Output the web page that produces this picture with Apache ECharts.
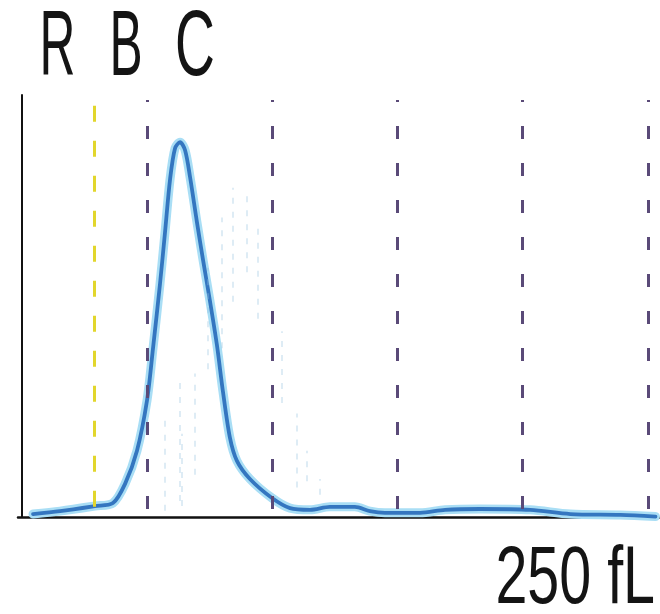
<!DOCTYPE html>
<html>
<head>
<meta charset="utf-8">
<style>
  html, body { margin: 0; padding: 0; background: #ffffff; }
  #chart { width: 660px; height: 614px; }
</style>
<script src="https://cdn.jsdelivr.net/npm/echarts@6/dist/echarts.min.js"></script>
</head>
<body>
<div id="chart"></div>
<script>
// Volume histogram curve (x in fL, y relative frequency 0..100)
const curveX = [4.5, 15.3, 29.2, 36.4, 41.2, 46.0, 50.0, 52.4, 55.2, 57.2, 59.2, 61.2, 63.2, 65.2, 67.2, 69.9, 72.4, 75.1, 77.9, 80.3, 83.1, 85.9, 91.1, 99.9, 107.1, 115.1, 123, 133, 139, 145, 159, 169, 183, 203, 219, 239, 253];
const curveY = [0.7, 1.4, 2.6, 3.3, 7.8, 15.7, 27.6, 40.0, 55.3, 67.5, 80.0, 87.4, 88.8, 86.9, 80.5, 70.0, 60.8, 51.3, 40.8, 29.8, 18.8, 13.3, 9.0, 4.5, 2.1, 1.7, 2.4, 2.4, 1.4, 1.0, 1.0, 1.7, 1.9, 1.7, 0.7, 0.5, 0.1];

// Discriminator lines (fL)
const yellowLine = [29];
const purpleLines = [50, 100, 150, 200, 250];

// Faint ghost dashed lines: position (fL), top and bottom (relative frequency)
const ghostX = [56.9, 63.2, 64.0, 69.1, 74.4, 79.9, 84.3, 89.9, 94.3, 103.9, 109.9, 113.9, 119.1];
const ghostTop = [23.5, 32.0, 19.7, 34.0, 59.0, 71.0, 78.0, 76.0, 68.5, 44.0, 24.5, 15.7, 9.0];
const ghostBottom = [1.5, 3.8, 2.6, 10.0, 35.0, 40.0, 51.0, 58.0, 47.0, 27.0, 7.0, 8.5, 5.3];

const letters = ['R', 'B', 'C'];
const unitLabel = '250 fL';

const curveData = curveX.map((x, i) => [x, curveY[i]]);

const vline = (x, top, bottom) => [{ coord: [x, bottom] }, { coord: [x, top] }];

const chart = echarts.init(document.getElementById('chart'), null, { renderer: 'canvas' });

const letterCenters = [57.5, 126, 195];
const letterScale = [0.54, 0.54, 0.6];

chart.setOption({
  animation: false,
  backgroundColor: '#ffffff',
  grid: { left: 18, right: 0, top: 95, bottom: 97, containLabel: false },
  xAxis: {
    type: 'value', min: -1.5, max: 254.8,
    axisLine: { show: true, onZero: false, lineStyle: { color: '#111111', width: 2.5 } },
    axisTick: { show: false }, axisLabel: { show: false }, splitLine: { show: false }
  },
  yAxis: {
    type: 'value', min: 0, max: 100,
    axisLine: { show: true, lineStyle: { color: '#111111', width: 2 } },
    axisTick: { show: false }, axisLabel: { show: false }, splitLine: { show: false }
  },
  graphic: [
    ...letters.map((t, i) => ({
      type: 'text', x: letterCenters[i], y: 50, scaleX: letterScale[i], scaleY: 1,
      style: { text: t, font: '92px "Liberation Sans", Arial, sans-serif', fill: '#141414', textAlign: 'center', textVerticalAlign: 'middle' }
    })),
    {
      type: 'text', x: 655, y: 580, scaleX: 0.7, scaleY: 1,
      style: { text: unitLabel, font: '82px "Liberation Sans", Arial, sans-serif', fill: '#141414', textAlign: 'right', textVerticalAlign: 'middle' }
    }
  ],
  series: [
    {
      type: 'line', data: [], silent: true,
      markLine: {
        symbol: ['none', 'none'], silent: true, label: { show: false },
        lineStyle: { color: 'rgba(150,195,225,0.42)', width: 1.5, type: [6, 8] },
        data: ghostX.map((x, i) => vline(x, ghostTop[i], ghostBottom[i]))
      }
    },
    {
      type: 'line', data: [], silent: true,
      markLine: {
        symbol: ['none', 'none'], silent: true, label: { show: false },
        lineStyle: { color: '#e2d62c', width: 3, type: [16, 19] },
        data: yellowLine.map(x => vline(x, 98.8, 2.4))
      }
    },
    {
      type: 'line', data: [], silent: true,
      markLine: {
        symbol: ['none', 'none'], silent: true, label: { show: false },
        lineStyle: { color: '#5a4a78', width: 3, type: [13, 24] },
        data: purpleLines.map(x => vline(x, 98.8, 1.9))
      }
    },
    {
      type: 'line', data: curveData, smooth: 0.3, symbol: 'none', silent: true,
      lineStyle: { color: '#a9def5', width: 9, cap: 'round', join: 'round' }, z: 3
    },
    {
      type: 'line', data: curveData, smooth: 0.3, symbol: 'none', silent: true,
      lineStyle: { color: '#3476c0', width: 3.8, cap: 'round', join: 'round' }, z: 4
    }
  ]
});
</script>
</body>
</html>
